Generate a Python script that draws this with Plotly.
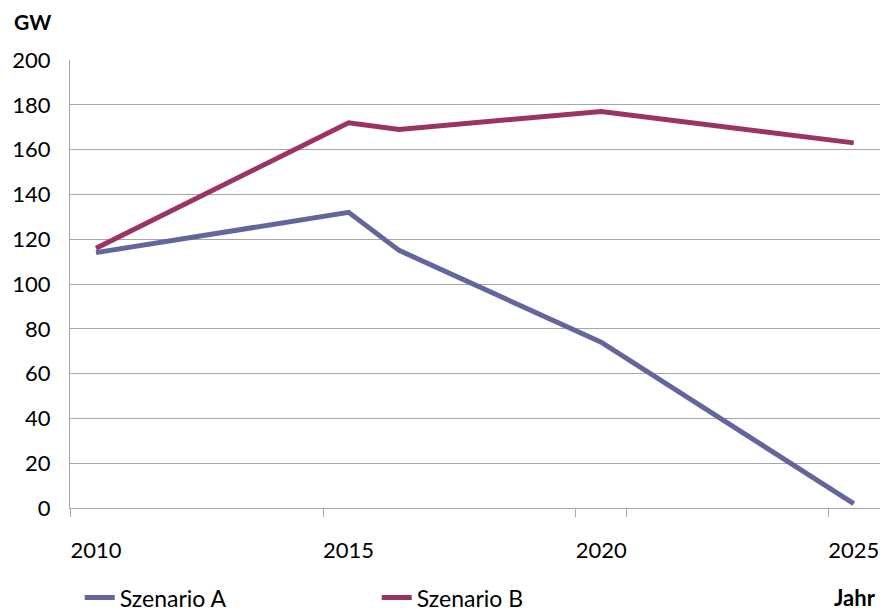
import plotly.graph_objects as go

years = [2010, 2015, 2016, 2020, 2025]
szenario_a = [114, 132, 115, 74, 2]
szenario_b = [116, 172, 169, 177, 163]
x_tick_vals = [2010, 2015, 2020, 2025]
x_tick_labels = ["2010", "2015", "2020", "2025"]
x_mark_vals = [2009.5, 2014.5, 2019.5, 2020.5, 2024.5]
y_tick_vals = [0, 20, 40, 60, 80, 100, 120, 140, 160, 180, 200]

FONT = "Lato, Carlito, Calibri, sans-serif"
GRID = "#a6a6a6"

fig = go.Figure()
fig.add_trace(go.Scatter(x=years, y=szenario_a, mode="lines", name="Szenario A",
                         line=dict(color="#65659e", width=5)))
fig.add_trace(go.Scatter(x=years, y=szenario_b, mode="lines", name="Szenario B",
                         line=dict(color="#9b3465", width=5)))
# invisible helper trace for the tick-mark axis
fig.add_trace(go.Scatter(x=[years[0]], y=[0], xaxis="x2", mode="markers",
                         marker=dict(opacity=0), showlegend=False, hoverinfo="skip"))

xr = [2009.485, 2025.52]
fig.update_layout(
    width=883, height=611,
    margin=dict(l=70, r=3, t=60, b=103, autoexpand=False),
    paper_bgcolor="white", plot_bgcolor="white",
    font=dict(family=FONT, size=22, color="black"),
    xaxis=dict(range=xr, tickvals=x_tick_vals, ticktext=x_tick_labels, automargin=False,
               showgrid=False, zeroline=False, showline=True, linecolor=GRID, linewidth=1,
               ticks="outside", ticklen=23, tickcolor="rgba(0,0,0,0)",
               tickfont=dict(size=22)),
    xaxis2=dict(range=xr, overlaying="x", side="bottom", tickvals=x_mark_vals,
                showticklabels=False, showgrid=False, zeroline=False, showline=False,
                automargin=False,
                ticks="outside", ticklen=8, tickcolor=GRID, tickwidth=1),
    yaxis=dict(range=[0, 200], tickvals=y_tick_vals, showgrid=True, gridcolor=GRID,
               automargin=False,
               gridwidth=1, zeroline=False, showline=True, linecolor=GRID, linewidth=1,
               ticks="outside", ticklen=14, tickcolor="rgba(0,0,0,0)",
               tickfont=dict(size=22)),
    legend=dict(orientation="h", x=0.012, xanchor="left", y=-0.2, yanchor="middle",
                font=dict(size=23), entrywidth=252, entrywidthmode="pixels",
                bgcolor="rgba(0,0,0,0)"),
    annotations=[
        dict(text="<b>GW</b>", xref="paper", yref="paper", x=-0.072, y=1.087,
             xanchor="left", yanchor="middle", showarrow=False, font=dict(size=21)),
        dict(text="<b>Jahr</b>", xref="paper", yref="paper", x=0.998, y=-0.2,
             xanchor="right", yanchor="middle", showarrow=False, font=dict(size=22)),
    ],
)

fig.write_html("out.html", config={"displayModeBar": False},
               post_script="document.body.style.margin='0';document.body.style.overflow='hidden';")
